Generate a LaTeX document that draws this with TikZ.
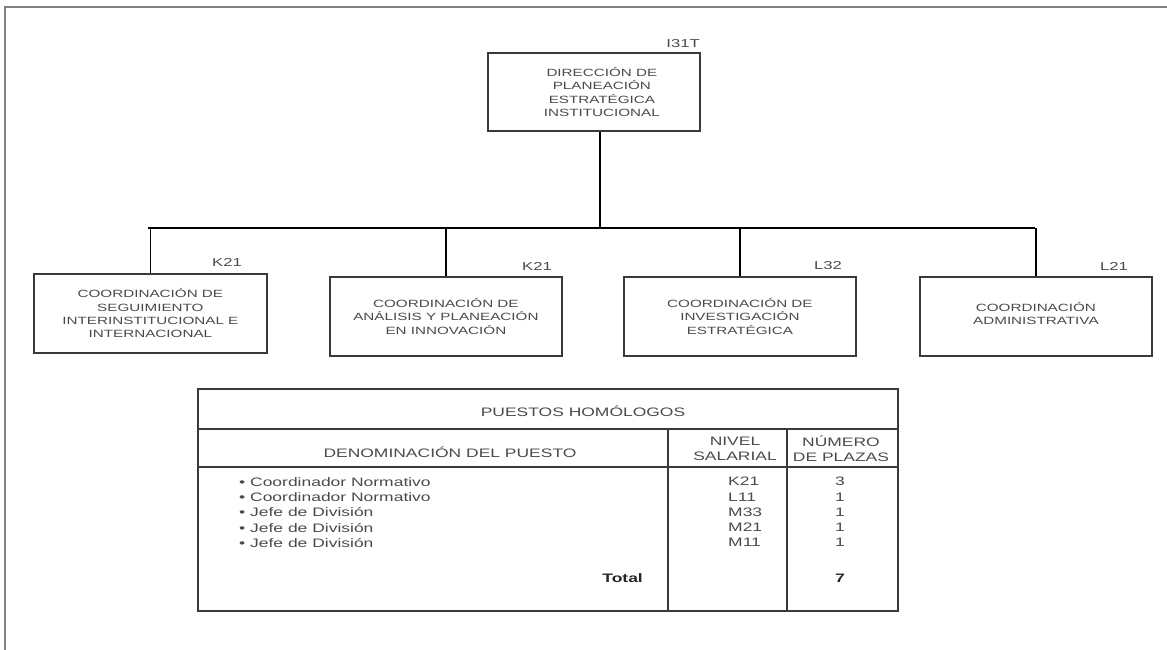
\documentclass[tikz,border=0pt]{standalone}
\usepackage{fontspec}
\setmainfont{Liberation Sans}
\newfontfamily\boxfont[FakeStretch=1.45]{Liberation Sans}
\newfontfamily\tabfont[FakeStretch=1.42]{Liberation Sans}
\definecolor{txtgray}{HTML}{4A4A4A}
\definecolor{linegray}{HTML}{3A3A3A}
\begin{document}
\begin{tikzpicture}[x=1pt,y=-1pt,
  orgbox/.style={draw=linegray, line width=1.8pt, anchor=north west, inner sep=0pt},
  boxtxt/.style={align=center, text=txtgray, font=\boxfont\fontsize{10.5}{13.3}\selectfont, inner sep=0pt},
  lvl/.style={text=txtgray, font=\boxfont\fontsize{11.5}{13}\selectfont, inner sep=0pt},
  conn/.style={draw=black, line width=1.8pt},
  tline/.style={draw=linegray, line width=1.8pt},
  ttxt/.style={text=txtgray, font=\tabfont\fontsize{12.3}{15.3}\selectfont, inner sep=0pt},
  ttot/.style={text=black!85, font=\tabfont\bfseries\fontsize{12.3}{15.3}\selectfont, inner sep=0pt}
]
\useasboundingbox (0,0) rectangle (1167,650);
% frame
\draw[draw=gray, line width=2.5pt] (5,650) -- (5,7) -- (1167,7);

% top box
\node[orgbox, minimum width=212pt, minimum height=78pt] (top) at (487,52) {};
\node[boxtxt] (toptxt) at ([xshift=8pt]top.center) {DIRECCIÓN DE\\PLANEACIÓN\\ESTRATÉGICA\\INSTITUCIONAL};
\node[lvl, anchor=south east] (toplbl) at (700,48) {I31T};

% second level boxes
\node[orgbox, minimum width=233pt, minimum height=79pt] (b1) at (33,273) {};
\node[orgbox, minimum width=232pt, minimum height=79pt] (b2) at (329,276) {};
\node[orgbox, minimum width=232pt, minimum height=79pt] (b3) at (623,276) {};
\node[orgbox, minimum width=232pt, minimum height=79pt] (b4) at (919,276) {};

\node[boxtxt] (t1) at (b1.center) {COORDINACIÓN DE\\SEGUIMIENTO\\INTERINSTITUCIONAL E\\INTERNACIONAL};
\node[boxtxt] (t2) at (b2.center) {COORDINACIÓN DE\\ANÁLISIS Y PLANEACIÓN\\EN INNOVACIÓN};
\node[boxtxt] (t3) at (b3.center) {COORDINACIÓN DE\\INVESTIGACIÓN\\ESTRATÉGICA};
\node[boxtxt] (t4) at ([yshift=3pt]b4.center) {COORDINACIÓN\\ADMINISTRATIVA};

\node[lvl] (l1) at (227,262) {K21};
\node[lvl] (l2) at (537,266) {K21};
\node[lvl] (l3) at (828,266) {L32};
\node[lvl] (l4) at (1114,266) {L21};

% connectors
\coordinate (busL) at (148,228);
\coordinate (busR) at (1035,228);
\coordinate (topout) at ([xshift=6pt]top.south);
\draw[conn] (topout) -- (topout |- busL);
\draw[conn] (busL) -- (busR);
\draw[conn] (b1.north |- busL) -- (b1.north);
\draw[conn] (b2.north |- busL) -- (b2.north);
\draw[conn] (b3.north |- busL) -- (b3.north);
\draw[conn] (b4.north |- busL) -- (b4.north);

% table
\node[draw=linegray, line width=1.8pt, anchor=north west, minimum width=700pt, minimum height=222pt, inner sep=0pt] (tbl) at (197,388) {};
\draw[tline] (197,429) -- (897,429);
\draw[tline] (197,467) -- (897,467);
\draw[tline] (668,429) -- (668,610);
\draw[tline] (787,429) -- (787,610);

\node[ttxt] (title) at (583,411) {PUESTOS HOMÓLOGOS};
\node[ttxt] (hden) at (450,452) {DENOMINACIÓN DEL PUESTO};
\node[ttxt, align=center] (hniv) at (735,449) {NIVEL\\SALARIAL};
\node[ttxt, align=center] (hnum) at (841,449) {NÚMERO\\DE PLAZAS};

\node[ttxt, anchor=north west, align=left] (items) at (239,477)
  {• Coordinador Normativo\\• Coordinador Normativo\\• Jefe de División\\• Jefe de División\\• Jefe de División};
\node[ttxt, anchor=north west, align=left] (codes) at (728,477)
  {K21\\L11\\M33\\M21\\M11};
\node[ttxt, anchor=north, align=center] (nums) at (840,477)
  {3\\1\\1\\1\\1};
\node[ttot, anchor=east] (total) at (643,578) {Total};
\node[ttot] (totnum) at (840,578) {7};
\end{tikzpicture}
\end{document}
